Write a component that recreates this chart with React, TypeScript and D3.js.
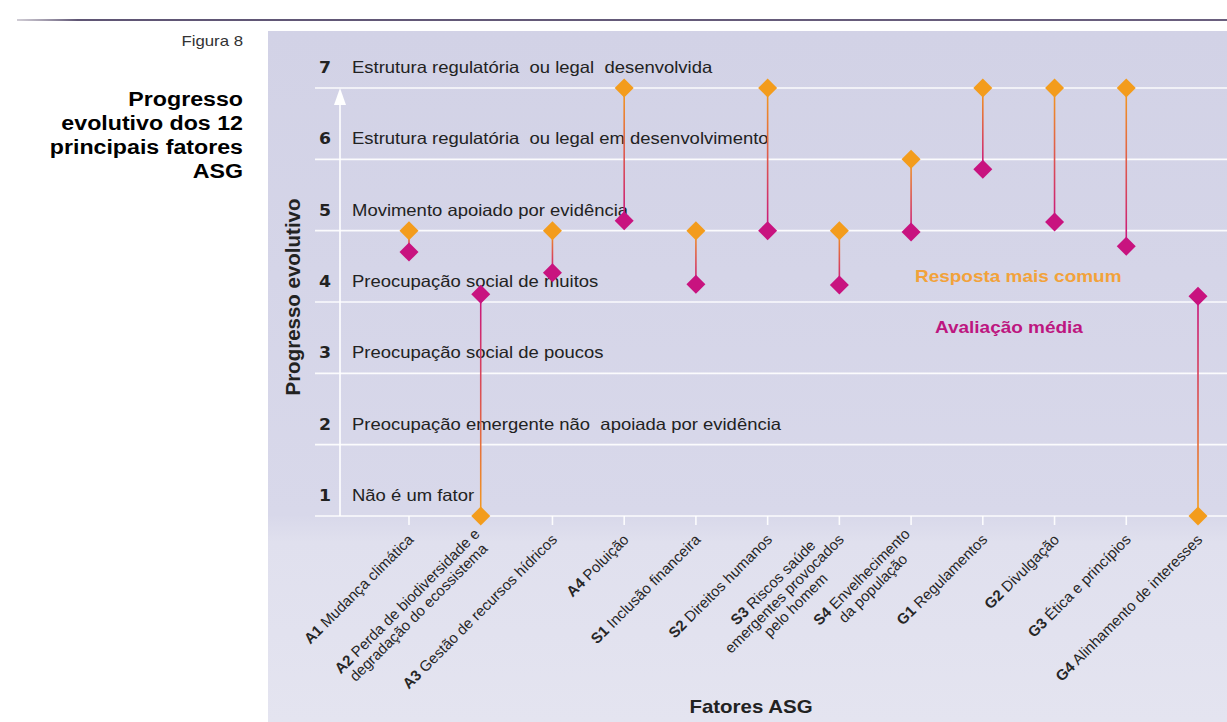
import React from "react";
import * as d3 from "d3";

// ---------- data ----------
const codes = ["A1", "A2", "A3", "A4", "S1", "S2", "S3", "S4", "G1", "G2", "G3", "G4"];
const names = [
  "Mudança climática",
  "Perda de biodiversidade e\ndegradação do ecossistema",
  "Gestão de recursos hídricos",
  "Poluição",
  "Inclusão financeira",
  "Direitos humanos",
  "Riscos saúde\nemergentes provocados\npelo homem",
  "Envelhecimento\nda população",
  "Regulamentos",
  "Divulgação",
  "Ética e princípios",
  "Alinhamento de interesses",
];
const mostCommon = [5, 1, 5, 7, 5, 7, 5, 6, 7, 7, 7, 1];
const average = [4.7, 4.11, 4.41, 5.14, 4.25, 5.0, 4.24, 4.98, 5.86, 5.12, 4.78, 4.08];
const levels = [1, 2, 3, 4, 5, 6, 7];
const levelLabels = [
  "Não é um fator",
  "Preocupação emergente não  apoiada por evidência",
  "Preocupação social de poucos",
  "Preocupação social de muitos",
  "Movimento apoiado por evidência",
  "Estrutura regulatória  ou legal em desenvolvimento",
  "Estrutura regulatória  ou legal  desenvolvida",
];
const titleLines = ["Progresso", "evolutivo dos 12", "principais fatores", "ASG"];

// ---------- layout ----------
const W = 1227;
const H = 722;
const ORANGE = "#f39c1c";
const MAGENTA = "#c8137f";
const FONT = "'Liberation Sans', Arial, sans-serif";

const y = d3.scaleLinear().domain([1, 7]).range([516, 88]);
const x = d3.scalePoint<string>().domain(codes).range([409, 1198]).padding(0);

let ctx: CanvasRenderingContext2D | null = null;
function measure(text: string, font: string): number {
  if (!ctx) {
    const c = document.createElement("canvas");
    ctx = c.getContext("2d");
  }
  if (!ctx) return text.length * 7;
  ctx.font = font;
  return ctx.measureText(text).width;
}

const LABEL_SIZE = 15;

function CategoryLabel({ code, name, cx }: { code: string; name: string; cx: number }) {
  const lines = name.split("\n");
  const boldFont = `bold ${LABEL_SIZE}px ${FONT}`;
  const normFont = `${LABEL_SIZE}px ${FONT}`;
  const widths = lines.map((l, i) =>
    i === 0 ? measure(code + " ", boldFont) + measure(l, normFont) : measure(l, normFont)
  );
  const bw = Math.max(...widths);
  const lh = 16;
  const mid = (lines.length - 1) / 2;
  return (
    <g transform={`translate(${cx + 5.5},${540.5}) rotate(-45)`} fontFamily={FONT} fontSize={LABEL_SIZE} fill="#262626">
      {lines.map((l, i) => (
        <text key={i} x={-bw / 2} y={(i - mid) * lh} textAnchor="middle">
          {i === 0 ? (
            <>
              <tspan fontWeight="bold">{code}</tspan>
              <tspan>{" " + l}</tspan>
            </>
          ) : (
            l
          )}
        </text>
      ))}
    </g>
  );
}

function diamond(cx: number, cy: number, r: number) {
  return `M${cx},${cy - r}L${cx + r},${cy}L${cx},${cy + r}L${cx - r},${cy}Z`;
}

function SText({
  x0,
  y0,
  sx,
  children,
  ...rest
}: { x0: number; y0: number; sx: number; children: React.ReactNode } & React.SVGProps<SVGTextElement>) {
  return (
    <text transform={`translate(${x0},${y0}) scale(${sx},1)`} x={0} y={0} {...rest}>
      {children}
    </text>
  );
}

export default function App() {
  const R = 9.5;
  return (
    <svg
      width={W}
      height={H}
      viewBox={`0 0 ${W} ${H}`}
      style={{ position: "absolute", left: 0, top: 0, background: "#fff" }}
    >
      <defs>
        <linearGradient id="bg" x1="0" y1="0" x2="0" y2="1">
          <stop offset="0" stopColor="#d2d2e6" />
          <stop offset="0.7" stopColor="#d8d8ea" />
          <stop offset="0.74" stopColor="#e0e0ee" />
          <stop offset="1" stopColor="#e4e4f0" />
        </linearGradient>
        <linearGradient id="topline" x1="0" y1="0" x2="1" y2="0">
          <stop offset="0" stopColor="#8a8196" stopOpacity="0.4" />
          <stop offset="0.05" stopColor="#5f5574" />
          <stop offset="1" stopColor="#6a5f7e" />
        </linearGradient>
        {codes.map((c, i) => (
          <linearGradient
            key={c}
            id={`conn${i}`}
            gradientUnits="userSpaceOnUse"
            x1={x(c)}
            y1={y(mostCommon[i])}
            x2={x(c)}
            y2={y(average[i])}
          >
            <stop offset="0" stopColor={ORANGE} />
            <stop offset="1" stopColor={MAGENTA} />
          </linearGradient>
        ))}
      </defs>

      {/* top rule */}
      <rect x={17} y={19} width={W - 17} height={2} fill="url(#topline)" />

      {/* left title */}
      <SText x0={243} y0={46} sx={1.2} textAnchor="end" fontFamily={FONT} fontSize={14} fill="#333">
        Figura 8
      </SText>
      {titleLines.map((t, i) => (
        <SText
          key={t}
          x0={243}
          y0={106 + i * 24}
          sx={1.16}
          textAnchor="end"
          fontFamily={FONT}
          fontSize={20}
          fontWeight="bold"
          fill="#000"
        >
          {t}
        </SText>
      ))}

      {/* plot background */}
      <rect x={268} y={31} width={W - 268} height={H - 31} fill="url(#bg)" />

      {/* gridlines */}
      {levels.map((v) => (
        <line key={v} x1={315} x2={W} y1={y(v)} y2={y(v)} stroke="#fff" strokeWidth={1.6} strokeOpacity={0.9} />
      ))}
      {/* category ticks */}
      {codes.map((c) => (
        <line key={c} x1={x(c)} x2={x(c)} y1={y(1)} y2={y(1) + 9} stroke="#fff" strokeWidth={1.6} strokeOpacity={0.9} />
      ))}

      {/* vertical axis with arrow */}
      <line x1={340} x2={340} y1={y(1)} y2={y(7) + 14} stroke="#fff" strokeWidth={1.6} />
      <path d={`M340,${y(7)}L346,${y(7) + 17}L334,${y(7) + 17}Z`} fill="#fff" />

      {/* level numbers and labels */}
      {levels.map((v, i) => (
        <g key={v}>
          <SText
            x0={325}
            y0={y(v) - 15}
            sx={1.15}
            textAnchor="middle"
            fontFamily="'DejaVu Sans', sans-serif"
            fontWeight="bold"
            fontSize={15}
            fill="#222"
          >
            {v}
          </SText>
          <SText x0={352} y0={y(v) - 15} sx={1.12} fontFamily={FONT} fontSize={16.5} fill="#222" style={{ whiteSpace: "pre" }}>
            {levelLabels[i]}
          </SText>
        </g>
      ))}

      {/* y axis title */}
      <text
        transform={`translate(300,297) rotate(-90)`}
        textAnchor="middle"
        fontFamily={FONT}
        fontWeight="bold"
        fontSize={20.5}
        fill="#222"
      >
        Progresso evolutivo
      </text>

      {/* connectors */}
      {codes.map((c, i) => (
        <line
          key={c}
          x1={x(c)}
          x2={x(c)! + 0.001}
          y1={y(mostCommon[i])}
          y2={y(average[i])}
          stroke={`url(#conn${i})`}
          strokeWidth={1.6}
        />
      ))}
      {/* most common (orange) */}
      {codes.map((c, i) => (
        <path key={c} d={diamond(x(c)!, y(mostCommon[i]), R)} fill={ORANGE} />
      ))}
      {/* average (magenta) */}
      {codes.map((c, i) => (
        <path key={c} d={diamond(x(c)!, y(average[i]), R)} fill={MAGENTA} />
      ))}

      {/* legend */}
      <SText x0={915} y0={282} sx={1.15} fontFamily={FONT} fontWeight="bold" fontSize={16.5} fill="#f2a23a">
        Resposta mais comum
      </SText>
      <SText x0={935} y0={333} sx={1.15} fontFamily={FONT} fontWeight="bold" fontSize={16.5} fill="#bd1680">
        Avaliação média
      </SText>

      {/* category labels */}
      {codes.map((c, i) => (
        <CategoryLabel key={c} code={c} name={names[i]} cx={x(c)!} />
      ))}

      {/* x axis title */}
      <SText x0={751} y0={713} sx={1.17} textAnchor="middle" fontFamily={FONT} fontWeight="bold" fontSize={17.5} fill="#222">
        Fatores ASG
      </SText>
    </svg>
  );
}
